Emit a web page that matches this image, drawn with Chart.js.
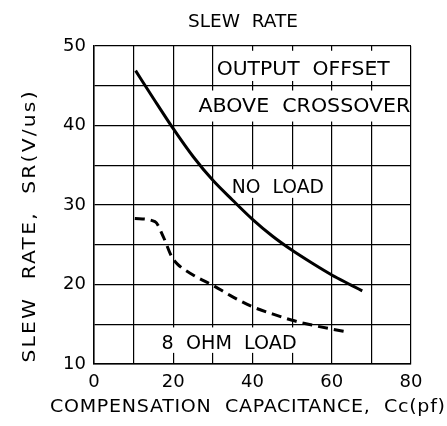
<!DOCTYPE html>
<html><head><meta charset="utf-8">
<script src="https://cdn.jsdelivr.net/npm/chart.js@4.4.1/dist/chart.umd.min.js"></script>
<style>html,body{margin:0;padding:0;background:#fff}#wrap{width:447px;height:426px;position:relative}</style>
</head><body><div id="wrap"><canvas id="c" width="447" height="426"></canvas></div>
<script>
// ---- data ----
const chartTitle = 'SLEW  RATE';
const xAxisTitle = 'COMPENSATION  CAPACITANCE,  Cc(pf)';
const yAxisTitle = 'SLEW  RATE,  SR(V/us)';
const xTickValues = [0, 10, 20, 30, 40, 50, 60, 70, 80];
const xTickLabels = ['0', '', '20', '', '40', '', '60', '', '80'];
const yTickValues = [10, 15, 20, 25, 30, 35, 40, 45, 50];
const yTickLabels = ['10', '', '20', '', '30', '', '40', '', '50'];
const noLoadCc = [10.5, 15, 20, 25, 30, 35, 40, 45, 50, 55, 60, 65, 67.7];
const noLoadSR = [46.9, 43.4, 39.6, 36.1, 33.1, 30.6, 28.2, 26.1, 24.3, 22.7, 21.2, 19.9, 19.2];
const ohm8Cc = [10.3, 15.4, 17.5, 19.6, 21, 25, 30, 35, 40, 45, 50, 55, 60, 64.4];
const ohm8SR = [28.3, 27.9, 26.0, 23.5, 22.6, 21.2, 19.9, 18.45, 17.2, 16.3, 15.5, 14.9, 14.4, 14.0];
const noteTexts = ['OUTPUT  OFFSET', 'ABOVE  CROSSOVER', 'NO  LOAD', '8  OHM  LOAD'];

// ---- layout / style (not data) ----
const FONT = "'DejaVu Sans', 'Liberation Sans', sans-serif";
const notes = [
  {t: 0, cx: 52.8, cy: 47.2, w: 173, box: [30.4, 79.7, 45.6, 49.4]},
  {t: 1, cx: 53.1, cy: 42.55, w: 212, box: [25.4, 79.7, 40.5, 44.4]},
  {t: 2, cx: 46.4, cy: 32.4, w: 92, box: [31, 59, 30.9, 34.5]},
  {t: 3, cx: 34.1, cy: 12.8, w: 135, box: [15.5, 55, 11.4, 14.6]}
];

// fit text to a width: mild horizontal stretch, remainder as letter spacing
function drawFitted(ctx, text, cx, cy, w, size) {
  ctx.save();
  ctx.font = size + 'px ' + FONT;
  const hasLS = 'letterSpacing' in ctx;
  if (hasLS) ctx.letterSpacing = '0px';
  const m = ctx.measureText(text).width;
  let sx = Math.min(Math.max(w / m, 0.9), 1.12);
  if (!hasLS) sx = w / m;
  ctx.translate(cx, cy + size * 0.729 / 2);
  ctx.scale(sx, 1);
  let left = -m / 2;
  if (hasLS) {
    const ls = (w / sx - m) / (text.length - 1);
    ctx.letterSpacing = ls + 'px';
    left = -(w / sx) / 2;
  }
  ctx.textAlign = 'left';
  ctx.textBaseline = 'alphabetic';
  ctx.fillText(text, left, 0);
  ctx.restore();
}

const overlay = {
  id: 'overlay',
  beforeDatasetsDraw(chart) {
    const {ctx, scales: {x, y}} = chart;
    ctx.save();
    ctx.fillStyle = '#fff';
    for (const n of notes) {
      const [x0, x1, y0, y1] = n.box;
      const px0 = x.getPixelForValue(x0), px1 = x.getPixelForValue(x1);
      const py0 = y.getPixelForValue(y1), py1 = y.getPixelForValue(y0);
      ctx.fillRect(px0, py0, px1 - px0, py1 - py0);
    }
    ctx.fillStyle = '#000';
    for (const n of notes) {
      drawFitted(ctx, noteTexts[n.t], x.getPixelForValue(n.cx), y.getPixelForValue(n.cy), n.w, 19);
    }
    ctx.restore();
  },
  afterDraw(chart) {
    const ctx = chart.ctx;
    ctx.save();
    ctx.fillStyle = '#000';
    drawFitted(ctx, chartTitle, 243, 20.5, 110, 17);
    drawFitted(ctx, xAxisTitle, 247.5, 405.8, 395, 17);
    ctx.translate(28.3, 227);
    ctx.rotate(-Math.PI / 2);
    drawFitted(ctx, yAxisTitle, 0, 0, 271, 18);
    ctx.restore();
  }
};

const pts = (xs, ys) => xs.map((v, i) => ({x: v, y: ys[i]}));

new Chart(document.getElementById('c'), {
  type: 'line',
  data: {
    datasets: [
      {label: 'NO LOAD', data: pts(noLoadCc, noLoadSR), borderColor: '#000', borderWidth: 3,
       pointRadius: 0, cubicInterpolationMode: 'monotone', fill: false},
      {label: '8 OHM LOAD', data: pts(ohm8Cc, ohm8SR), borderColor: '#000', borderWidth: 3,
       borderDash: [10, 6], pointRadius: 0, cubicInterpolationMode: 'monotone', fill: false}
    ]
  },
  options: {
    responsive: false,
    animation: false,
    devicePixelRatio: 1,
    layout: {padding: {top: 46, right: 36, left: 0, bottom: 0}},
    plugins: {legend: {display: false}, title: {display: false}, tooltip: {enabled: false}},
    scales: {
      x: {
        type: 'linear', min: 0, max: 80,
        afterBuildTicks: s => { s.ticks = xTickValues.map(v => ({value: v})); },
        afterFit: s => { s.height = 62; },
        ticks: {
          autoSkip: false, maxRotation: 0, padding: 8, color: '#000',
          font: {family: FONT, size: 18},
          callback: (v) => xTickLabels[xTickValues.indexOf(v)] ?? ''
        },
        grid: {color: '#000', lineWidth: 1.2, drawTicks: false},
        border: {color: '#000', width: 1.5}
      },
      y: {
        type: 'linear', min: 10, max: 50,
        afterBuildTicks: s => { s.ticks = yTickValues.map(v => ({value: v})); },
        afterFit: s => { s.width = 94; },
        ticks: {
          autoSkip: false, padding: 8, color: '#000',
          font: {family: FONT, size: 18},
          callback: (v) => yTickLabels[yTickValues.indexOf(v)] ?? ''
        },
        grid: {color: '#000', lineWidth: 1.2, drawTicks: false},
        border: {color: '#000', width: 1.5}
      }
    }
  },
  plugins: [overlay]
});
</script>
</body></html>
